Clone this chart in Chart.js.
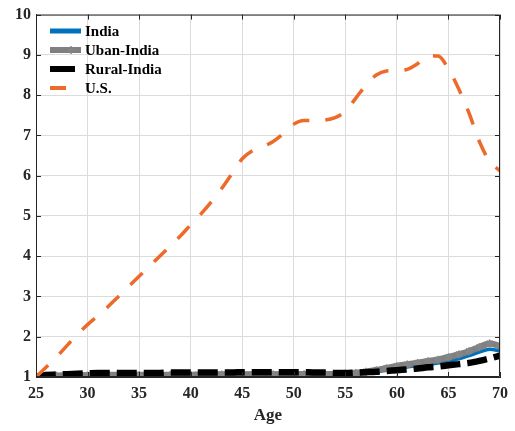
<!DOCTYPE html>
<html>
<head>
<meta charset="utf-8">
<script src="https://cdn.jsdelivr.net/npm/chart.js@4.4.1/dist/chart.umd.min.js"></script>
<style>
  html, body { margin: 0; padding: 0; background: #ffffff; }
  #wrap { width: 515px; height: 431px; }
</style>
</head>
<body>
<div id="wrap"><canvas id="c" width="515" height="431"></canvas></div>
<script>
// Ages on the horizontal axis
const ages = [25,26,27,28,29,30,31,32,33,34,35,36,37,38,39,40,41,42,43,44,45,46,47,48,49,50,
              51,52,53,54,55,56,57,58,59,60,61,62,63,64,65,66,67,68,69,70];

// Relative values by age, one list per group
const india = [1.00,1.04,1.05,1.06,1.07,1.07,1.08,1.08,1.08,1.08,1.08,1.08,1.08,1.08,1.08,1.08,
               1.08,1.08,1.09,1.09,1.09,1.09,1.09,1.09,1.09,1.09,1.09,1.09,1.08,1.08,1.08,1.09,
               1.10,1.13,1.17,1.21,1.25,1.28,1.31,1.35,1.39,1.45,1.53,1.62,1.69,1.65];
const urbanIndia = [1.00,1.03,1.03,1.04,1.04,1.04,1.05,1.05,1.05,1.05,1.05,1.05,1.05,1.05,1.05,1.05,
                    1.06,1.06,1.06,1.06,1.06,1.06,1.06,1.06,1.07,1.07,1.07,1.07,1.07,1.07,1.08,1.10,
                    1.13,1.17,1.22,1.27,1.31,1.35,1.39,1.43,1.49,1.56,1.64,1.74,1.83,1.77];
const ruralIndia = [1.00,1.05,1.06,1.07,1.08,1.09,1.10,1.10,1.10,1.10,1.10,1.10,1.10,1.11,1.11,1.11,
                    1.11,1.11,1.11,1.11,1.12,1.12,1.12,1.12,1.12,1.12,1.12,1.11,1.11,1.10,1.10,1.11,
                    1.12,1.13,1.15,1.17,1.19,1.21,1.24,1.26,1.29,1.32,1.35,1.40,1.46,1.53];
const us = [1.00,1.25,1.50,1.78,2.05,2.30,2.52,2.75,3.00,3.25,3.50,3.75,4.00,4.25,4.50,4.78,
            5.05,5.35,5.68,6.05,6.42,6.62,6.72,6.85,7.05,7.28,7.37,7.37,7.38,7.44,7.60,7.92,
            8.25,8.50,8.60,8.61,8.64,8.78,8.98,8.97,8.65,8.15,7.55,6.85,6.35,6.12];

// Axis tick values
const xTicks = [25,30,35,40,45,50,55,60,65,70];
const yTicks = [1,2,3,4,5,6,7,8,9,10];

const seriesNames = ['India','Uban-India','Rural-India','U.S.'];

const pts = vals => vals.map((v, i) => ({ x: ages[i], y: v }));

const AXIS = '#262626';
const FONT = "'Liberation Serif', 'Times New Roman', serif";

// Inward tick marks on all four sides plus the top/right frame
const boxTicks = {
  id: 'boxTicks',
  afterDatasetsDraw(chart) {
    const { ctx, chartArea: a, scales: { x, y } } = chart;
    ctx.save();
    ctx.strokeStyle = AXIS;
    ctx.lineWidth = 1;
    ctx.beginPath();
    ctx.rect(a.left + 0.5, a.top + 0.5, a.right - a.left - 1, a.bottom - a.top - 1);
    xTicks.forEach(t => {
      const px = Math.round(x.getPixelForValue(t)) + 0.5;
      ctx.moveTo(px, a.bottom); ctx.lineTo(px, a.bottom - 5);
      ctx.moveTo(px, a.top); ctx.lineTo(px, a.top + 5);
    });
    yTicks.forEach(t => {
      const py = Math.round(y.getPixelForValue(t)) + 0.5;
      ctx.moveTo(a.left, py); ctx.lineTo(a.left + 5, py);
      ctx.moveTo(a.right, py); ctx.lineTo(a.right - 5, py);
    });
    ctx.stroke();
    ctx.restore();
  }
};

// Legend inside the top-left corner of the plot
const innerLegend = {
  id: 'innerLegend',
  afterDraw(chart) {
    const { ctx } = chart;
    const ds = chart.data.datasets;
    const rows = [31, 50, 69, 88];
    const lens = [31, 31, 25, 16];
    const widths = [5, 6, 6, 4];
    ctx.save();
    ds.forEach((d, i) => {
      const y = rows[i];
      ctx.strokeStyle = d.borderColor;
      ctx.lineWidth = widths[i];
      ctx.setLineDash([]);
      ctx.beginPath();
      ctx.moveTo(50, y); ctx.lineTo(50 + lens[i], y);
      ctx.stroke();
      if (d.pointStyle === 'star') {
        ctx.lineWidth = 1.5;
        ctx.strokeStyle = d.pointBorderColor;
        ctx.beginPath();
        ctx.moveTo(71 - 4, y); ctx.lineTo(71 + 4, y);
        ctx.moveTo(71, y - 4); ctx.lineTo(71, y + 4);
        ctx.stroke();
      }
      ctx.fillStyle = '#000000';
      ctx.font = 'bold 15px ' + FONT;
      ctx.textBaseline = 'middle';
      ctx.textAlign = 'left';
      ctx.fillText(d.label, 85, y + 1);
    });
    ctx.restore();
  }
};

new Chart(document.getElementById('c'), {
  type: 'line',
  data: {
    datasets: [
      { label: seriesNames[0], data: pts(india), borderColor: '#0072BD', borderWidth: 3.5,
        pointRadius: 0, tension: 0.4, cubicInterpolationMode: 'monotone', order: 4 },
      { label: seriesNames[1], data: pts(urbanIndia), borderColor: '#808080', borderWidth: 6.5,
        pointStyle: 'star', pointRadius: 4, pointBorderColor: '#858585', pointBorderWidth: 1.5,
        pointBackgroundColor: '#808080',
        tension: 0.4, cubicInterpolationMode: 'monotone', order: 3 },
      { label: seriesNames[2], data: pts(ruralIndia), borderColor: '#000000', borderWidth: 6.5,
        borderDash: [20, 7], pointRadius: 0, tension: 0.4, cubicInterpolationMode: 'monotone', order: 2 },
      { label: seriesNames[3], data: pts(us), borderColor: '#EE6A2A', borderWidth: 3.5,
        borderDash: [17, 16], pointRadius: 0, tension: 0.4, cubicInterpolationMode: 'monotone', order: 1 }
    ]
  },
  options: {
    responsive: false,
    animation: false,
    devicePixelRatio: 1,
    layout: { padding: { top: 12, right: 15, left: 0, bottom: 0 } },
    plugins: { legend: { display: false }, tooltip: { enabled: false } },
    scales: {
      x: {
        type: 'linear', min: 25, max: 70,
        afterFit(s) { s.height = 54; },
        afterBuildTicks(s) { s.ticks = xTicks.map(v => ({ value: v })); },
        grid: { color: '#dcdcdc', drawTicks: false },
        border: { display: true, color: AXIS },
        ticks: { color: '#262626', padding: 7, maxRotation: 0,
                 font: { family: FONT, size: 16, weight: 'bold' } },
        title: { display: true, text: 'Age', color: '#262626', padding: { top: 0, bottom: 5 },
                 font: { family: FONT, size: 17, weight: 'bold' } }
      },
      y: {
        type: 'linear', min: 1, max: 10,
        afterFit(s) { s.width = 36; },
        afterBuildTicks(s) { s.ticks = yTicks.map(v => ({ value: v })); },
        grid: { color: '#dcdcdc', drawTicks: false },
        border: { display: true, color: AXIS },
        ticks: { color: '#262626', padding: 5,
                 font: { family: FONT, size: 16, weight: 'bold' } }
      }
    }
  },
  plugins: [boxTicks, innerLegend]
});
</script>
</body>
</html>
